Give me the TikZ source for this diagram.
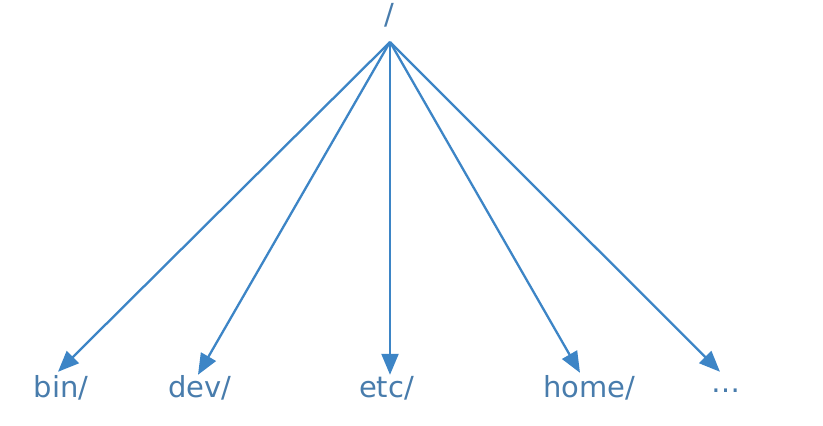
\documentclass[tikz,border=0pt]{standalone}
\usepackage{fontspec}
\setmainfont{DejaVu Sans}
\usetikzlibrary{arrows.meta}
\definecolor{arrowblue}{RGB}{61,133,198}
\definecolor{textblue}{RGB}{72,124,172}
\tikzset{
  lbl/.style={text=textblue, font=\fontsize{29}{34}\selectfont, inner sep=0pt, anchor=base, text height=22pt, text depth=7pt},
  arr/.style={draw=arrowblue, line width=2.3pt, -{Triangle[length=21pt,width=17pt]}}
}
\begin{document}
\begin{tikzpicture}[x=1pt,y=-1pt]
\useasboundingbox (0,0) rectangle (823,426);
\node[lbl] (root) at (389,24) {/};
\coordinate (hub) at (390,42);
\node[lbl] (bin) at (61,397) {bin/};
\node[lbl] (dev) at (200,397) {dev/};
\node[lbl] (etc) at (386.5,397) {etc/};
\node[lbl] (home) at (589,397) {home/};
\node[lbl] (more) at (726,392) {…};
\draw[arr] (hub) -- ([shift={(-3,-3)}]bin.north);
\draw[arr] (hub) -- ([shift={(-2,0)}]dev.north);
\draw[arr] (hub) -- ([shift={(3.5,0)}]etc.north);
\draw[arr] (hub) -- ([shift={(-9,-2)}]home.north);
\draw[arr] (hub) -- ([shift={(-6,2)}]more.north);
\end{tikzpicture}
\end{document}
